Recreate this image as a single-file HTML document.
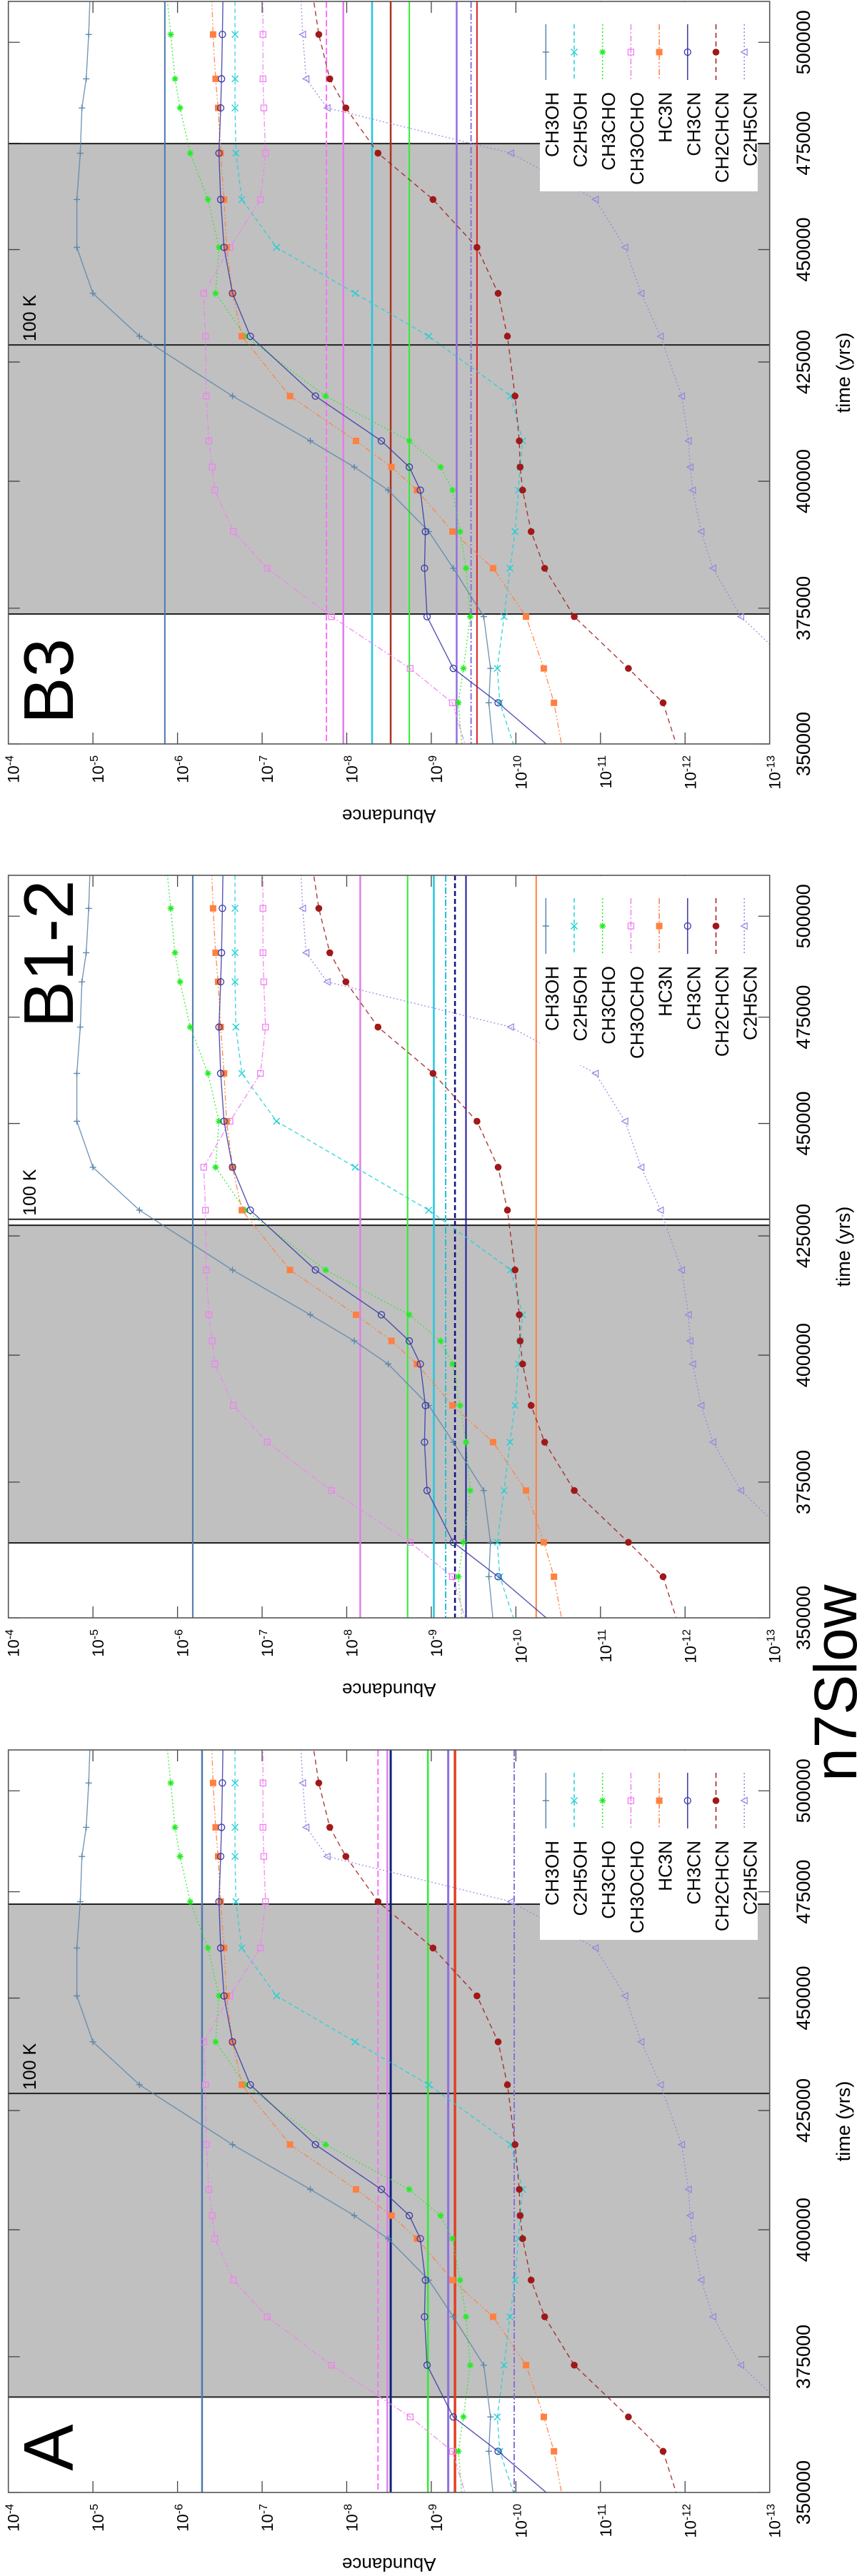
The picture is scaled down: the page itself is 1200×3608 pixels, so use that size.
<!DOCTYPE html>
<html><head><meta charset="utf-8"><title>n7Slow abundances</title>
<style>html,body{margin:0;padding:0;background:#fff}svg{display:block}text{font-family:"Liberation Sans",sans-serif}</style>
</head><body>
<svg id="chart" xmlns="http://www.w3.org/2000/svg" width="1200" height="3608" viewBox="0 0 1200 3608"></svg>
<script>
// ---- data ----
const times = [345000, 357400, 363700, 373400, 382700, 389900, 398200, 402900, 408300, 417700, 430600, 440100, 450500, 461600, 472600, 483600, 490800, 502000, 515000];
const seriesNames = ["CH3OH","C2H5OH","CH3CHO","CH3OCHO","HC3N","CH3CN","CH2CHCN","C2H5CN"];
const logCH3OH   = [-9.76,-9.68,-9.70,-9.62,-9.26,-8.97,-8.49,-8.09,-7.57,-6.65,-5.55,-5.00,-4.81,-4.81,-4.85,-4.87,-4.92,-4.95,-4.97];
const logC2H5OH  = [-10.08,-9.81,-9.78,-9.86,-9.93,-9.99,-10.03,-10.05,-10.08,-9.94,-8.97,-8.10,-7.17,-6.76,-6.69,-6.68,-6.68,-6.68,-6.68];
const logCH3CHO  = [-9.39,-9.32,-9.38,-9.46,-9.41,-9.34,-9.25,-9.11,-8.74,-7.75,-6.80,-6.45,-6.49,-6.36,-6.15,-6.03,-5.97,-5.92,-5.86];
const logCH3OCHO = [-9.50,-9.25,-8.75,-7.82,-7.06,-6.66,-6.44,-6.41,-6.37,-6.34,-6.33,-6.31,-6.62,-6.98,-7.04,-7.02,-7.01,-7.01,-7.01];
const logHC3N    = [-10.60,-10.45,-10.33,-10.12,-9.73,-9.25,-8.83,-8.53,-8.11,-7.33,-6.76,-6.65,-6.58,-6.55,-6.51,-6.48,-6.45,-6.42,-6.40];
const logCH3CN   = [-10.75,-9.79,-9.26,-8.95,-8.92,-8.93,-8.87,-8.74,-8.41,-7.63,-6.86,-6.65,-6.55,-6.51,-6.49,-6.51,-6.52,-6.53,-6.54];
const logCH2CHCN = [-12.00,-11.74,-11.33,-10.69,-10.34,-10.18,-10.08,-10.05,-10.04,-9.99,-9.90,-9.79,-9.54,-9.02,-8.37,-7.99,-7.80,-7.67,-7.58];
const logC2H5CN  = [-14.20,-13.70,-13.30,-12.66,-12.33,-12.19,-12.09,-12.06,-12.04,-11.96,-11.71,-11.48,-11.29,-10.94,-9.94,-7.77,-7.52,-7.48,-7.45];
const timeTicks = [350000, 375000, 400000, 425000, 450000, 475000, 500000];
const abundTicks = [-4,-5,-6,-7,-8,-9,-10,-11,-12,-13];
const panelLabels = ["B3","B1-2","A"];
// shaded (warm-up) intervals and 100 K markers per panel
const shadeStart = [373900, 363600, 367400];
const shadeEnd   = [474900, 427300, 472000];
const k100Time   = [428700, 428600, 428700];
// observed reference abundances per panel (log10)
const refB3  = [-5.85,-7.76,-7.96,-8.30,-8.52,-8.74,-9.30,-9.47,-9.54];
const refB12 = [-6.18,-8.16,-8.72,-9.03,-9.17,-9.28,-9.41,-10.24];
const refA   = [-6.29,-8.37,-8.48,-8.52,-8.96,-9.20,-9.28,-9.98];
</script>
<script>
const NS = "http://www.w3.org/2000/svg";
const svg = document.getElementById("chart");
const seriesData = [logCH3OH, logC2H5OH, logCH3CHO, logCH3OCHO, logHC3N, logCH3CN, logCH2CHCN, logC2H5CN];
const seriesColor = ["#5b86ad","#22d0d6","#22ee22","#f080f0","#ff8040","#3838a8","#a01818","#9a80e0"];
const seriesDash = ["", "6,4", "2,3", "8,3,2,3", "8,3,2,3,2,3", "", "7,5", "2,3"];
const seriesMarker = ["plus","cross","star","osq","fsq","ocirc","fcirc","otri"];
const refStylesB3 = [["#4a7ab0",2,""],["#ff70ff",2,"9,4"],["#e080e8",2.5,""],["#20c8e0",2.5,""],["#b03020",2.5,""],["#30ee30",2,""],["#9070e0",2.5,""],["#8a70d8",2,"9,3,2,3"],["#e02020",2,""]];
const refStylesB12 = [["#4a7ab0",2,""],["#e080e8",2.5,""],["#30ee30",2,""],["#20c8e0",2.5,""],["#20c0d8",2,"9,3,2,3"],["#101080",2.5,"7,4"],["#1a1aa0",2,""],["#ff8040",2,""]];
const refStylesA = [["#4a7ab0",2.5,""],["#ff70ff",2,"9,4"],["#e080e8",2.5,""],["#102080",3,""],["#30ee30",2.5,""],["#9070e0",3,""],["#e04020",3.5,""],["#8a70d8",2,"9,3,2,3"]];
const panelRefs = [refB3, refB12, refA];
const panelRefStyles = [refStylesB3, refStylesB12, refStylesA];
const panelTops = [2, 1226, 2451];
const labelY = [952, 110, 977];
const L = 11.7, R = 1077.7, H = 1040, T0 = 350000, T1 = 510500;
function X(lg){ return L + (-4 - lg) * (R - L) / 9; }
function mk(tag, attrs, parent){ const e=document.createElementNS(NS,tag); for(const k in attrs) e.setAttribute(k,attrs[k]); (parent||svg).appendChild(e); return e; }

function drawMarker(g, type, x, y, c){
  const s=4.5; let e;
  if(type==="plus"){ e=mk("path",{d:`M${x-s} ${y}H${x+s}M${x} ${y-s}V${y+s}`,stroke:c,"stroke-width":1.4,fill:"none"},g); }
  else if(type==="cross"){ e=mk("path",{d:`M${x-s} ${y-s}L${x+s} ${y+s}M${x-s} ${y+s}L${x+s} ${y-s}`,stroke:c,"stroke-width":1.4,fill:"none"},g); }
  else if(type==="star"){ e=mk("path",{d:`M${x-s} ${y}H${x+s}M${x} ${y-s}V${y+s}M${x-s*.7} ${y-s*.7}L${x+s*.7} ${y+s*.7}M${x-s*.7} ${y+s*.7}L${x+s*.7} ${y-s*.7}`,stroke:c,"stroke-width":1.6,fill:"none"},g); }
  else if(type==="osq"){ e=mk("rect",{x:x-4,y:y-4,width:8,height:8,stroke:c,"stroke-width":1.3,fill:"none"},g); }
  else if(type==="fsq"){ e=mk("rect",{x:x-4.5,y:y-4.5,width:9,height:9,fill:c},g); }
  else if(type==="ocirc"){ e=mk("circle",{cx:x,cy:y,r:4.5,stroke:c,"stroke-width":1.3,fill:"none"},g); }
  else if(type==="fcirc"){ e=mk("circle",{cx:x,cy:y,r:4.8,fill:c},g); }
  else { e=mk("path",{d:`M${x+4} ${y-4.5}L${x+4} ${y+4.5}L${x-4.5} ${y}Z`,stroke:c,"stroke-width":1.2,fill:"none"},g); }
  return e;
}

panelTops.forEach((top, p) => {
  const Y = t => top + H * (1 - Math.log(t / T0) / Math.log(T1 / T0));
  const bottom = top + H;
  const g = mk("g", {});
  
  
  const clip = mk("clipPath", {id: "clip" + p}, g);
  mk("rect", {x: L, y: top, width: R - L, height: H}, clip);
  // shaded region
  const shade = mk("rect", {x: L, y: Y(shadeEnd[p]), width: R - L, height: Y(shadeStart[p]) - Y(shadeEnd[p]), fill: "#c0c0c0"}, g);
  
  
  // ticks
  timeTicks.forEach(t => {
    const y = Y(t);
    const tk = mk("path", {d: `M${R} ${y}H${R-16}M${L} ${y}H${L+16}`, stroke: "#444", "stroke-width": 1.3}, g);
    
    
    const lb = mk("text", {x: 1134, y: y, transform: `rotate(-90 1134 ${y})`, "text-anchor": "middle", "font-size": 27, fill: "#000"}, g);
    lb.textContent = String(t);
    
    
  });
  abundTicks.forEach(a => {
    const x = X(a);
    const tk = mk("path", {d: `M${x} ${bottom}V${bottom-16}M${x} ${top}V${top+16}`, stroke: "#444", "stroke-width": 1.3}, g);
    
    
    const bx = x + 15, by = bottom + 16;
    const lb = mk("text", {x: bx, y: by, transform: `rotate(-90 ${bx} ${by})`, "text-anchor": "end", "font-size": 22, fill: "#000"}, g);
    
    
    const t1 = mk("tspan", {}, lb); t1.textContent = "10";
    const t2 = mk("tspan", {dy: -8, "font-size": 16}, lb); t2.textContent = String(a);
  });
  // boundary lines
  [shadeStart[p], shadeEnd[p], k100Time[p]].forEach(t => {
    const ln = mk("line", {x1: L, x2: R, y1: Y(t), y2: Y(t), stroke: "#222", "stroke-width": 2}, g);
    
    
  });
  // reference lines
  const rg = mk("g", {"clip-path": `url(#clip${p})`}, g);
  panelRefs[p].forEach((v, i) => {
    const st = panelRefStyles[p][i];
    const ln = mk("line", {x1: X(v), x2: X(v), y1: top, y2: bottom, stroke: st[0], "stroke-width": st[1], "stroke-dasharray": st[2]}, rg);
    
    
  });
  // series
  const sg = mk("g", {"clip-path": `url(#clip${p})`}, g);
  seriesData.forEach((vals, s) => {
    const pts = vals.map((v, i) => X(v).toFixed(1) + "," + Y(times[i]).toFixed(1)).join(" ");
    const pl = mk("polyline", {points: pts, fill: "none", stroke: seriesColor[s], "stroke-width": 1.4, "stroke-dasharray": seriesDash[s], opacity: 0.85}, sg);
    
    
    vals.forEach((v, i) => {
      const m = drawMarker(sg, seriesMarker[s], X(v), Y(times[i]), seriesColor[s]);
      
      
    });
  });
  // legend
  const lgBox = mk("rect", {x: 756, y: top + 1, width: 305, height: 265, fill: "#fff"}, g);
  
  
  seriesNames.forEach((n, s) => {
    const lx = 764.3 + 39.7 * s;
    const eg = mk("g", {}, g);
    
    
    mk("line", {x1: lx, x2: lx, y1: top + 32, y2: top + 110, stroke: seriesColor[s], "stroke-width": 1.5, "stroke-dasharray": seriesDash[s]}, eg);
    drawMarker(eg, seriesMarker[s], lx, top + 71, seriesColor[s]);
    const tx = lx + 17.5, ty = top + 127;
    const t = mk("text", {x: tx, y: ty, transform: `rotate(-90 ${tx} ${ty})`, "text-anchor": "end", "font-size": 26, fill: "#000"}, eg);
    t.textContent = n;
  });
  // frame
  const fr = mk("rect", {x: L, y: top, width: R - L, height: H, fill: "none", stroke: "#555", "stroke-width": 1.6}, g);
  
  
  // labels
  const k = mk("text", {x: 50, y: Y(k100Time[p]) - 5, transform: `rotate(-90 50 ${Y(k100Time[p]) - 5})`, "font-size": 25, fill: "#000"}, g);
  k.textContent = "100 K";
  
  
  const pl = mk("text", {x: 102, y: top + labelY[p], transform: `rotate(-90 102 ${top + labelY[p]})`, "text-anchor": "middle", "font-size": 98, fill: "#000"}, g);
  pl.textContent = panelLabels[p];
  
  
  const yt = mk("text", {x: 544.7, y: bottom + 92, transform: `rotate(180 544.7 ${bottom + 92})`, "text-anchor": "middle", "font-size": 26, fill: "#000"}, g);
  yt.textContent = "Abundance";
  
  
  const xt = mk("text", {x: 1190, y: top + 520, transform: `rotate(-90 1190 ${top + 520})`, "text-anchor": "middle", "font-size": 27, fill: "#000"}, g);
  xt.textContent = "time (yrs)";
  
  
});
const title = mk("text", {x: 1199, y: 2495, transform: "rotate(-90 1199 2495)", "font-size": 84, fill: "#000"});
title.textContent = "n7Slow";


</script>
</body></html>
